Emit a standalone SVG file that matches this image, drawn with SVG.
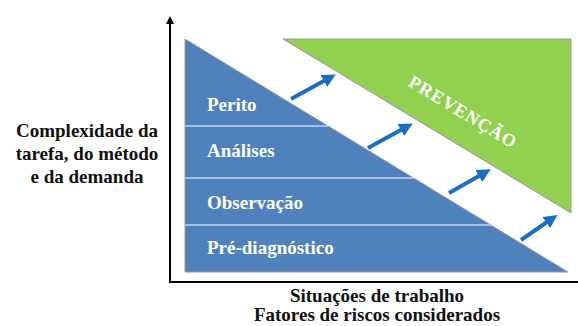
<svg xmlns="http://www.w3.org/2000/svg" width="578" height="326" viewBox="0 0 578 326">
<defs>
<style>
.lbl{fill:#ffffff}
.ax{fill:#111111;text-anchor:middle}
.div{stroke:#c5d5ea;stroke-width:1.5}
.arr{stroke:#1a6fc4;stroke-width:4;fill:none;marker-end:url(#ah)}
</style>
<marker id="ah" viewBox="0 0 10 10" refX="6" refY="5" markerWidth="3.4" markerHeight="3.4" orient="auto" markerUnits="strokeWidth">
<path d="M0,0 L10,5 L0,10 Z" fill="#1a6fc4"/>
</marker>
<marker id="axh" viewBox="0 0 10 10" refX="5" refY="5" markerWidth="4" markerHeight="4" orient="auto" markerUnits="strokeWidth">
<path d="M0,0 L10,5 L0,10 Z" fill="#000000"/>
</marker>
</defs>
<rect width="578" height="326" fill="#ffffff"/>
<g id="prevencao">
<polygon points="283,39 571,39 571,213" fill="#92d050" stroke="#9a9a9a" stroke-width="1"/>
<text x="463" y="118" transform="rotate(31.2 463 112)" font-family="Liberation Serif, Times New Roman, serif" font-weight="bold" font-size="18" fill="#ffffff" text-anchor="middle" letter-spacing="1">PREVENÇÃO</text>
</g>
<g id="triangulo">
<polygon points="185,39 185,272 568,272" fill="#4f81bd" stroke="#9a9a9a" stroke-width="1"/>
<line class="div" x1="185" y1="126" x2="328" y2="126"/>
<line class="div" x1="185" y1="178" x2="414" y2="178"/>
<line class="div" x1="185" y1="225" x2="492" y2="225"/>
</g>
<g font-family="Liberation Serif, Times New Roman, serif" font-weight="bold" font-size="19">
<g id="perito"><text class="lbl" x="207" y="111">Perito</text></g>
<g id="analises"><text class="lbl" x="207" y="157">Análises</text></g>
<g id="observacao"><text class="lbl" x="207" y="209">Observação</text></g>
<g id="prediagnostico"><text class="lbl" x="207" y="254">Pré-diagnóstico</text></g>
<g id="eixo-y">
<text class="ax" x="87" y="137">Complexidade da</text>
<text class="ax" x="87" y="160">tarefa, do método</text>
<text class="ax" x="87" y="183">e da demanda</text>
</g>
<g id="eixo-x">
<text class="ax" x="377" y="302">Situações de trabalho</text>
<text class="ax" x="377" y="321">Fatores de riscos considerados</text>
</g>
</g>
<g id="eixos">
<line x1="170" y1="282" x2="170" y2="20" stroke="#000000" stroke-width="2" marker-end="url(#axh)"/>
<line x1="169" y1="282" x2="578" y2="282" stroke="#000000" stroke-width="2"/>
</g>
<g id="connectors">
<line class="arr" x1="291" y1="99" x2="331" y2="77"/>
<line class="arr" x1="368" y1="148" x2="408" y2="126"/>
<line class="arr" x1="449" y1="193" x2="486" y2="172"/>
<line class="arr" x1="521" y1="240" x2="553" y2="218"/>
</g>
</svg>
